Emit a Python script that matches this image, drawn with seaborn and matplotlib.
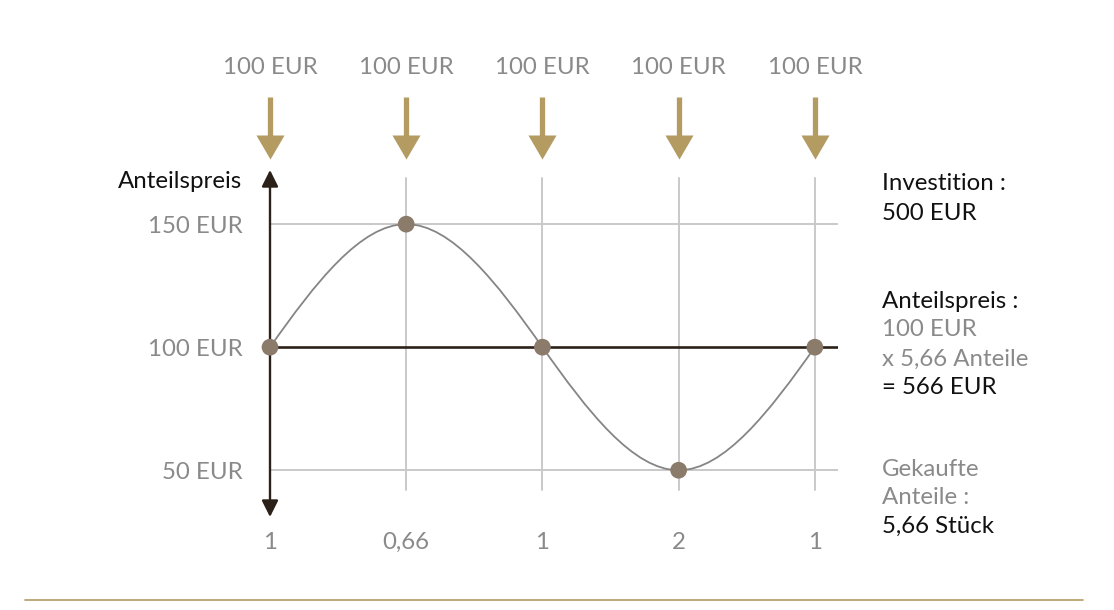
import numpy as np
import matplotlib
matplotlib.use("Agg")
import matplotlib.pyplot as plt
from matplotlib.path import Path
from matplotlib.patches import PathPatch
import pandas as pd
import seaborn as sns

# Daten: monatliche Sparrate 100 EUR, Anteilspreis je Kaufzeitpunkt
kaufzeitpunkt = [0, 1, 2, 3, 4]
anteilspreis = [100, 150, 100, 50, 100]
gekaufte_anteile = ["1", "0,66", "1", "2", "1"]
sparrate = ["100 EUR"] * 5
y_ticks = [50, 100, 150]
y_labels = ["50 EUR", "100 EUR", "150 EUR"]

GOLD = "#b39b62"
DARK = "#2b2118"
GRAY = "#8a8a8a"
GRID = "#c9c9c9"
POINT = "#8b7b6b"
BLACK = "#111111"

sns.set_style("white")
plt.rcParams["font.family"] = ["Lato", "DejaVu Sans"]

W, H = 1114, 610
fig = plt.figure(figsize=(W / 100, H / 100), dpi=100)
ax = fig.add_axes([270 / W, 1 - 517 / H, (838 - 270) / W, (517 - 170) / H])
ax.set_xlim(0, 4.17)
ax.set_ylim(31, 172)
for s in ax.spines.values():
    s.set_visible(False)

df = pd.DataFrame({"x": kaufzeitpunkt, "preis": anteilspreis})

# Gitter
for y in [50, 150]:
    ax.axhline(y, color=GRID, lw=1.4, zorder=1)
for x in kaufzeitpunkt[1:]:
    ax.plot([x, x], [42, 168.7], color=GRID, lw=1.4, zorder=1)

# Basislinie bei 100 EUR
ax.axhline(100, color=DARK, lw=1.9, zorder=2)

# Y-Achse mit Pfeilen
ax.annotate("", xy=(0, 172), xytext=(0, 31),
            arrowprops=dict(arrowstyle="<|-|>", color=DARK, lw=1.7,
                            mutation_scale=25, shrinkA=0, shrinkB=0),
            annotation_clip=False, zorder=3)

# geglaettete Kurve durch die Punkte (kubische Bezier-Segmente)
k = np.pi / 2
xs, ys = kaufzeitpunkt, anteilspreis
n = len(xs)
m = []
for i in range(n):
    if i == 0:
        m.append(k * (ys[1] - ys[0]))
    elif i == n - 1:
        m.append(k * (ys[-1] - ys[-2]))
    else:
        m.append(k * (ys[i + 1] - ys[i - 1]) / 2)
verts = [(xs[0], ys[0])]
codes = [Path.MOVETO]
for i in range(n - 1):
    d = (xs[i + 1] - xs[i]) / 3
    verts += [(xs[i] + d, ys[i] + m[i] * d),
              (xs[i + 1] - d, ys[i + 1] - m[i + 1] * d),
              (xs[i + 1], ys[i + 1])]
    codes += [Path.CURVE4] * 3
ax.add_patch(PathPatch(Path(verts, codes), fill=False, edgecolor="#858585",
                       lw=1.3, zorder=4))

sns.scatterplot(data=df, x="x", y="preis", ax=ax, color=POINT, s=145,
                edgecolor="none", zorder=5, clip_on=False, legend=False)

# Pfeile oben (Sparrate)
head = [(-14, 0), (14, 0), (0, -24)]
for x, lab in zip(kaufzeitpunkt, sparrate):
    ax.plot([x, x], [201.7, 184], color=GOLD, lw=3.8, solid_capstyle="butt",
            clip_on=False, zorder=3)
    ax.plot([x], [186.2], marker=head, markersize=34.6, color=GOLD,
            markeredgewidth=0, clip_on=False, zorder=3)
    ax.text(x, 213.8, lab, ha="center", va="center", fontsize=17.3,
            color=GRAY, clip_on=False)

# Achsenbeschriftungen
ax.set_yticks(y_ticks)
ax.set_yticklabels(y_labels)
ax.set_xticks(kaufzeitpunkt)
ax.set_xticklabels(gekaufte_anteile)
ax.tick_params(axis="y", length=0, pad=20, labelsize=17.3, labelcolor=GRAY)
ax.tick_params(axis="x", length=0, pad=11, labelsize=17.3, labelcolor=GRAY)
ax.set_xlabel("")
ax.set_ylabel("")
fig.text(242 / W, 1 - 181 / H, "Anteilspreis", ha="right", va="center",
         fontsize=17.3, color=BLACK)

# rechte Erklaerung
rechts = [
    (184, "Investition :", BLACK),
    (213, "500 EUR", BLACK),
    (301, "Anteilspreis :", BLACK),
    (330, "100 EUR", GRAY),
    (359, "x 5,66 Anteile", GRAY),
    (388, "= 566 EUR", BLACK),
    (469, "Gekaufte", GRAY),
    (497, "Anteile :", GRAY),
    (526, "5,66 Stück", BLACK),
]
for py, txt, col in rechts:
    fig.text(882 / W, 1 - py / H, txt, ha="left", va="center",
             fontsize=17.3, color=col)

# Linie unten
fig.add_artist(plt.Line2D([25 / W, 1083 / W], [1 - 600 / H, 1 - 600 / H],
                          color=GOLD, lw=1.2))

fig.savefig("out.png", dpi=100)
